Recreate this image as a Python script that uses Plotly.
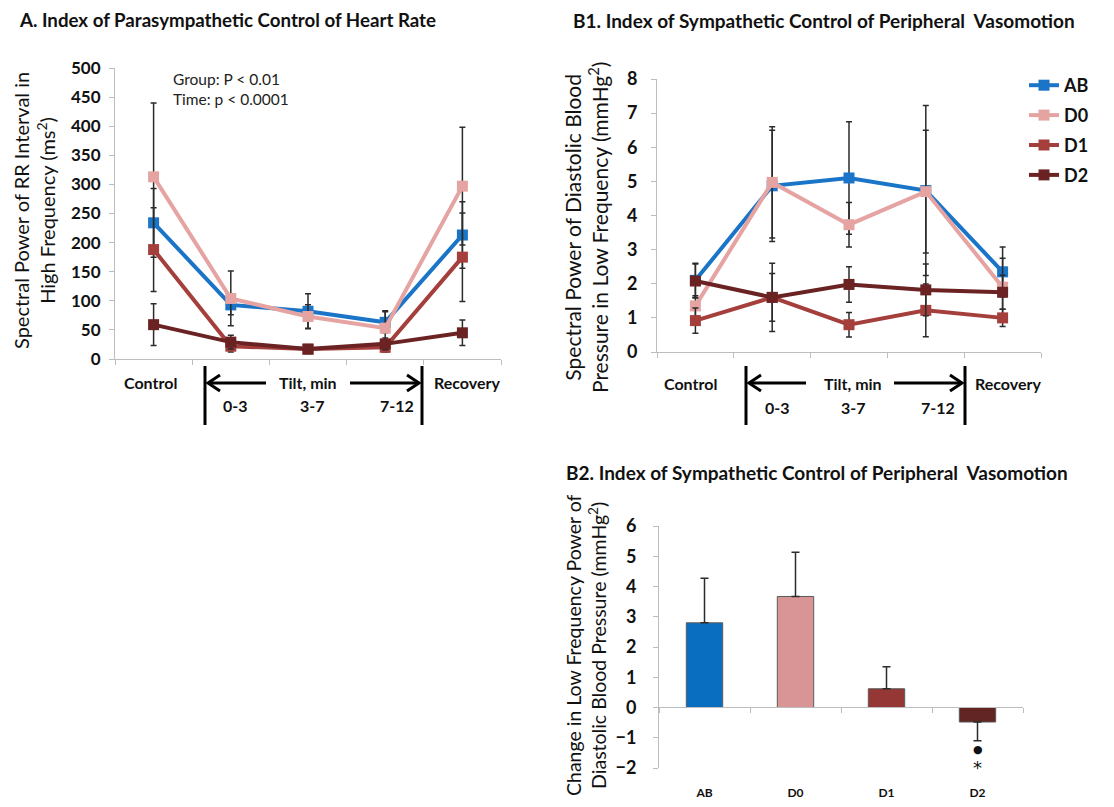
import plotly.graph_objects as go

W, H = 1114, 807
OFF = 8  # page body margin
FW, FH = W - 2 * OFF, H - 2 * OFF
def px(x):
    return (x - OFF) / FW
def py(y):
    return 1 - (y - OFF) / FH

FONT = "Lato"

# ---------------- data ----------------
groups = ["AB", "D0", "D1", "D2"]
colors_line = ["#1A75C8", "#E5A3A2", "#A43F3C", "#6A2322"]
colors_bar = ["#0A6EC0", "#D99595", "#953735", "#632523"]

periods = [0, 1, 2, 3, 4]  # Control, 0-3, 3-7, 7-12, Recovery
period_labels_top = ["Control", "Recovery"]
tilt_labels = ["0-3", "3-7", "7-12"]

# Panel A: HF power of RR interval (ms^2)
hf_AB = [234, 93, 82, 63, 213]
hf_AB_err = [59, 17, 30, 18, 57]
hf_D0 = [313, 104, 73, 53, 297]
hf_D0_err = [127, 47, 20, 30, 101]
hf_D1 = [188, 22, 17, 20, 175]
hf_D1_err = [72, 10, 5, 8, 76]
hf_D2 = [59, 29, 17, 26, 45]
hf_D2_err = [36, 12, 5, 10, 22]

# Panel B1: LF power of diastolic BP (mmHg^2)
lf_AB = [2.1, 4.87, 5.1, 4.73, 2.35]
lf_AB_err = [0.5, 1.63, 1.65, 2.49, 0.73]
lf_D0 = [1.35, 4.97, 3.73, 4.7, 1.9]
lf_D0_err = [0.3, 1.63, 0.65, 1.8, 0.85]
lf_D1 = [0.92, 1.6, 0.8, 1.22, 1.0]
lf_D1_err = [0.37, 0.7, 0.36, 0.77, 0.25]
lf_D2 = [2.08, 1.6, 1.98, 1.82, 1.75]
lf_D2_err = [0.5, 1.0, 0.52, 0.76, 0.5]

# Panel B2: change in LF power
chg_values = [2.8, 3.67, 0.62, -0.48]
chg_err_plus = [1.47, 1.46, 0.73, 0.0]
chg_err_minus = [0.0, 0.0, 0.0, 0.62]

hf_series = [(hf_AB, hf_AB_err), (hf_D0, hf_D0_err), (hf_D1, hf_D1_err), (hf_D2, hf_D2_err)]
lf_series = [(lf_AB, lf_AB_err), (lf_D0, lf_D0_err), (lf_D1, lf_D1_err), (lf_D2, lf_D2_err)]

fig = go.Figure()

ERR_COLOR = "#2b2b2b"
for i, g in enumerate(groups):
    vals, err = hf_series[i]
    fig.add_trace(go.Scatter(
        x=periods, y=vals, mode="lines+markers", name=g,
        line=dict(color=colors_line[i], width=4),
        marker=dict(symbol="square", size=11, color=colors_line[i]),
        error_y=dict(type="data", array=err, color=ERR_COLOR, thickness=1.5, width=3),
        xaxis="x", yaxis="y", showlegend=False, legendgroup=g))

for i, g in enumerate(groups):
    vals, err = lf_series[i]
    fig.add_trace(go.Scatter(
        x=periods, y=vals, mode="lines+markers", name=g,
        line=dict(color=colors_line[i], width=4),
        marker=dict(symbol="square", size=11, color=colors_line[i]),
        error_y=dict(type="data", array=err, color=ERR_COLOR, thickness=1.5, width=3),
        xaxis="x2", yaxis="y2", showlegend=True, legendgroup=g))

fig.add_trace(go.Bar(
    x=list(range(len(groups))), y=chg_values,
    marker=dict(color=colors_bar, line=dict(color="#5a5a5a", width=1)),
    width=0.4,
    error_y=dict(type="data", symmetric=False, array=chg_err_plus, arrayminus=chg_err_minus,
                 color=ERR_COLOR, thickness=1.5, width=4),
    xaxis="x3", yaxis="y3", showlegend=False))

# dummy trace to activate label axis of B2
fig.add_trace(go.Scatter(x=[None], y=[None], xaxis="x4", yaxis="y3", showlegend=False, hoverinfo="skip"))

AXC = "#BDBDBD"

def xaxis_common(domain):
    return dict(domain=domain, range=[-0.5, 4.5], tickvals=[-0.5, 0.5, 1.5, 2.5, 3.5, 4.5],
                showticklabels=False, ticks="outside", ticklen=5, tickcolor=AXC,
                showline=True, linecolor=AXC, linewidth=1, showgrid=False, zeroline=False,
                automargin=False)

def yaxis_common(domain, rng, dtick, anchor, size, standoff):
    return dict(domain=domain, range=rng, dtick=dtick, anchor=anchor,
                ticks="outside", ticklen=5, tickcolor=AXC, showline=True, linecolor=AXC,
                showgrid=False, zeroline=False, automargin=False,
                tickfont=dict(family=FONT, size=size, color="#111", weight="bold"),
                ticklabelstandoff=standoff)

fig.update_layout(
    width=FW, height=FH, margin=dict(l=0, r=0, t=0, b=0, pad=0, autoexpand=False),
    paper_bgcolor="white", plot_bgcolor="white",
    font=dict(family=FONT, color="#111"),
    xaxis=dict(**xaxis_common([px(115), px(501)]), anchor="y"),
    yaxis=yaxis_common([py(359), py(68)], [0, 500], 50, "x", 17, 5),
    xaxis2=dict(**xaxis_common([px(657), px(1041)]), anchor="y2"),
    yaxis2=yaxis_common([py(352), py(79)], [0, 8], 1, "x2", 18, 10),
    xaxis3=dict(domain=[px(659), px(1023)], range=[-0.5, 3.5], tickvals=[-0.5, 0.5, 1.5, 2.5, 3.5],
                showticklabels=False, ticks="outside", ticklen=5, tickcolor=AXC,
                showline=True, linecolor=AXC, showgrid=False, zeroline=False,
                anchor="free", position=py(707), automargin=False),
    xaxis4=dict(domain=[px(659), px(1023)], range=[-0.5, 3.5], overlaying="x3", anchor="y3",
                side="bottom", tickvals=list(range(len(groups))), ticktext=groups,
                showline=False, ticks="", showgrid=False, zeroline=False, automargin=False,
                tickfont=dict(family=FONT, size=12, color="#111", weight="bold"),
                ticklabelstandoff=16),
    yaxis3=yaxis_common([py(768), py(526)], [-2, 6], 1, "x3", 18, 13),
    legend=dict(x=px(1024), y=py(67), xanchor="left", yanchor="top",
                font=dict(family=FONT, size=18, color="#111", weight="bold"),
                traceorder="grouped", tracegroupgap=3.5, bgcolor="rgba(0,0,0,0)",
                itemwidth=30),
)

ann = []
def text(x, y, t, size=14, bold=False, xanchor="center", angle=0, align="center", color="#111"):
    ann.append(dict(x=px(x), y=py(y), xref="paper", yref="paper", text=t, showarrow=False,
                    xanchor=xanchor, yanchor="middle", textangle=angle, align=align,
                    font=dict(family=FONT, size=size, color=color, weight="bold" if bold else "normal")))

# Titles
text(17, 20, "A. Index of Parasympathetic Control of Heart Rate", 18.7, True, "left")
text(571, 20, "B1. Index of Sympathetic Control of Peripheral  Vasomotion", 19, True, "left")
text(564, 473, "B2. Index of Sympathetic Control of Peripheral  Vasomotion", 19, True, "left")

# stats
ann.append(dict(x=px(171), y=py(89), xref="paper", yref="paper",
                text="Group: P < 0.01<br>Time: p < 0.0001", showarrow=False,
                xanchor="left", yanchor="middle", align="left",
                font=dict(family=FONT, size=15.5, color="#222")))

# y-axis titles
text(34, 211, "Spectral Power of RR Interval in<br>High Frequency (ms<sup>2</sup>)", 20, False, "center", -90)
text(586, 228, "Spectral Power of Diastolic Blood<br>Pressure in Low Frequency (mmHg<sup>2</sup>)", 21, False, "center", -90)
text(586, 645, "Change in Low Frequency Power of<br>Diastolic Blood Pressure (mmHg<sup>2</sup>)", 19.5, False, "center", -90)

# x-category labels, panel A
text(150, 382, period_labels_top[0], 16, True)
text(467, 382, period_labels_top[1], 16, True)
text(308, 382, "Tilt, min", 16, True)
for xx, t in zip([235, 312, 397], tilt_labels):
    text(xx, 406, t, 16, True)
# panel B1
text(690, 383, period_labels_top[0], 16, True)
text(1008, 383, period_labels_top[1], 16, True)
text(853, 383, "Tilt, min", 16, True)
for xx, t in zip([777, 853, 938], tilt_labels):
    text(xx, 407, t, 16, True)

# significance symbols under D2 bar
ann.append(dict(x=3, y=-1.40, xref="x3", yref="y3", text="●", showarrow=False,
                font=dict(family="DejaVu Sans", size=11, color="#111")))
ann.append(dict(x=3, y=-1.98, xref="x3", yref="y3", text="*", showarrow=False,
                font=dict(family="DejaVu Sans", size=18, color="#111")))

fig.update_layout(annotations=ann)

shapes = []
def line(x0, y0, x1, y1, w=3):
    shapes.append(dict(type="line", xref="paper", yref="paper", x0=px(x0), y0=py(y0),
                       x1=px(x1), y1=py(y1), line=dict(color="black", width=w)))
def chevron(xtip, y, direction):
    d = 12 * direction
    shapes.append(dict(type="path", xref="paper", yref="paper",
                       path=f"M {px(xtip + d)} {py(y - 8)} L {px(xtip)} {py(y)} L {px(xtip + d)} {py(y + 8)}",
                       line=dict(color="black", width=3)))

# Panel A tilt bracket
line(205, 366, 205, 425)
line(422, 366, 422, 425)
line(208, 383, 266, 383)
line(350, 383, 419, 383)
chevron(208, 383, 1)
chevron(419, 383, -1)
# Panel B1 tilt bracket
line(746, 366, 746, 425)
line(965, 366, 965, 425)
line(749, 383, 806, 383)
line(894, 383, 962, 383)
chevron(749, 383, 1)
chevron(962, 383, -1)

fig.update_layout(shapes=shapes)

fig.write_html("out.html")
